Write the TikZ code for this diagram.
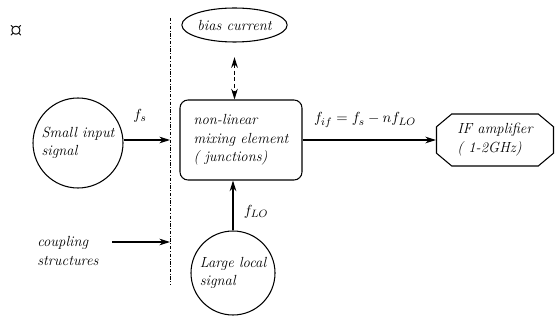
\documentclass[tikz,border=0pt]{standalone}
\usepackage{tikz}
\usepackage{xcolor}
\usetikzlibrary{arrows.meta}
\usetikzlibrary{shapes}

\begin{document}
\begin{tikzpicture}
[
x=0.75pt,
y=-0.75pt,
every node/.style={
	font=\itshape\fontsize{11}{14}\selectfont,
	align=left,
	inner sep=0pt},
sigCirc/.style={
	circle,
	draw=black,
	thick},
mixBox/.style={
	rectangle,
	draw=black,
	thick,
	rounded corners=6pt,
	minimum width=91.5pt,
	minimum height=60pt},
regArr/.style={
	-{Stealth[length=8pt,width=5pt]},
	thick,
	shorten <=0pt,
	shorten >=0pt},
biasArr/.style={
	{Stealth[length=8pt,width=5pt]}-{Stealth[length=8pt,width=5pt]},
	thick,
	densely dashed}
]
\useasboundingbox (0,0) rectangle (556,320);

\node[font=\bfseries\Large] (mark) at (16,31) {\textcurrency};

%boundary line
\coordinate (bndTop) at (170,18);
\coordinate (bndBot) at (170,285);
\draw [semithick, dash pattern=on 2.5pt off 1.2pt on 0.8pt off 1.2pt] (bndTop) -- (bndBot);
\coordinate (fsEnd) at (170,140);
\coordinate (cplEnd) at (170,242);
\coordinate (cplStart) at (112,242);

%nodes
\node[sigCirc, minimum size=67.5pt] (sig) at (78,143) {Small input\\signal};
\node[sigCirc, minimum size=63pt] (lo) at (233,273) {Large local\\signal};
\node[mixBox] (mix) at (241,140) {non-linear\\mixing element\\( junctions)};
\node[ellipse, draw=black, thick, minimum width=72.75pt, minimum height=25.5pt] (bias) at (234.5,25) {bias current};
\node[chamfered rectangle, draw=black, thick, chamfered rectangle xsep=8pt, chamfered rectangle angle=50,
	minimum width=87.75pt, minimum height=39pt] (ifa) at (495,140) {IF amplifier\\( 1-2GHz)};
\node[anchor=west] (coup) at (37,251) {coupling\\structures};

%labels
\node (fs) at (140,116) {$f_s$};
\node (fif) at (365,120) {$f_{if} = f_s - n f_{LO}$};
\node (flo) at (256,212) {$f_{LO}$};

%arrows
\draw [regArr] (sig.east |- fsEnd) -- (fsEnd);
\draw [regArr] (cplStart) -- (cplEnd);
\draw [regArr] (mix.east) -- (ifa.west);
\draw [regArr] (lo.north) -- (lo.north |- mix.south);
\draw [biasArr, shorten <=11pt] (bias.south) -- (bias.south |- mix.north);

\end{tikzpicture}
\end{document}
